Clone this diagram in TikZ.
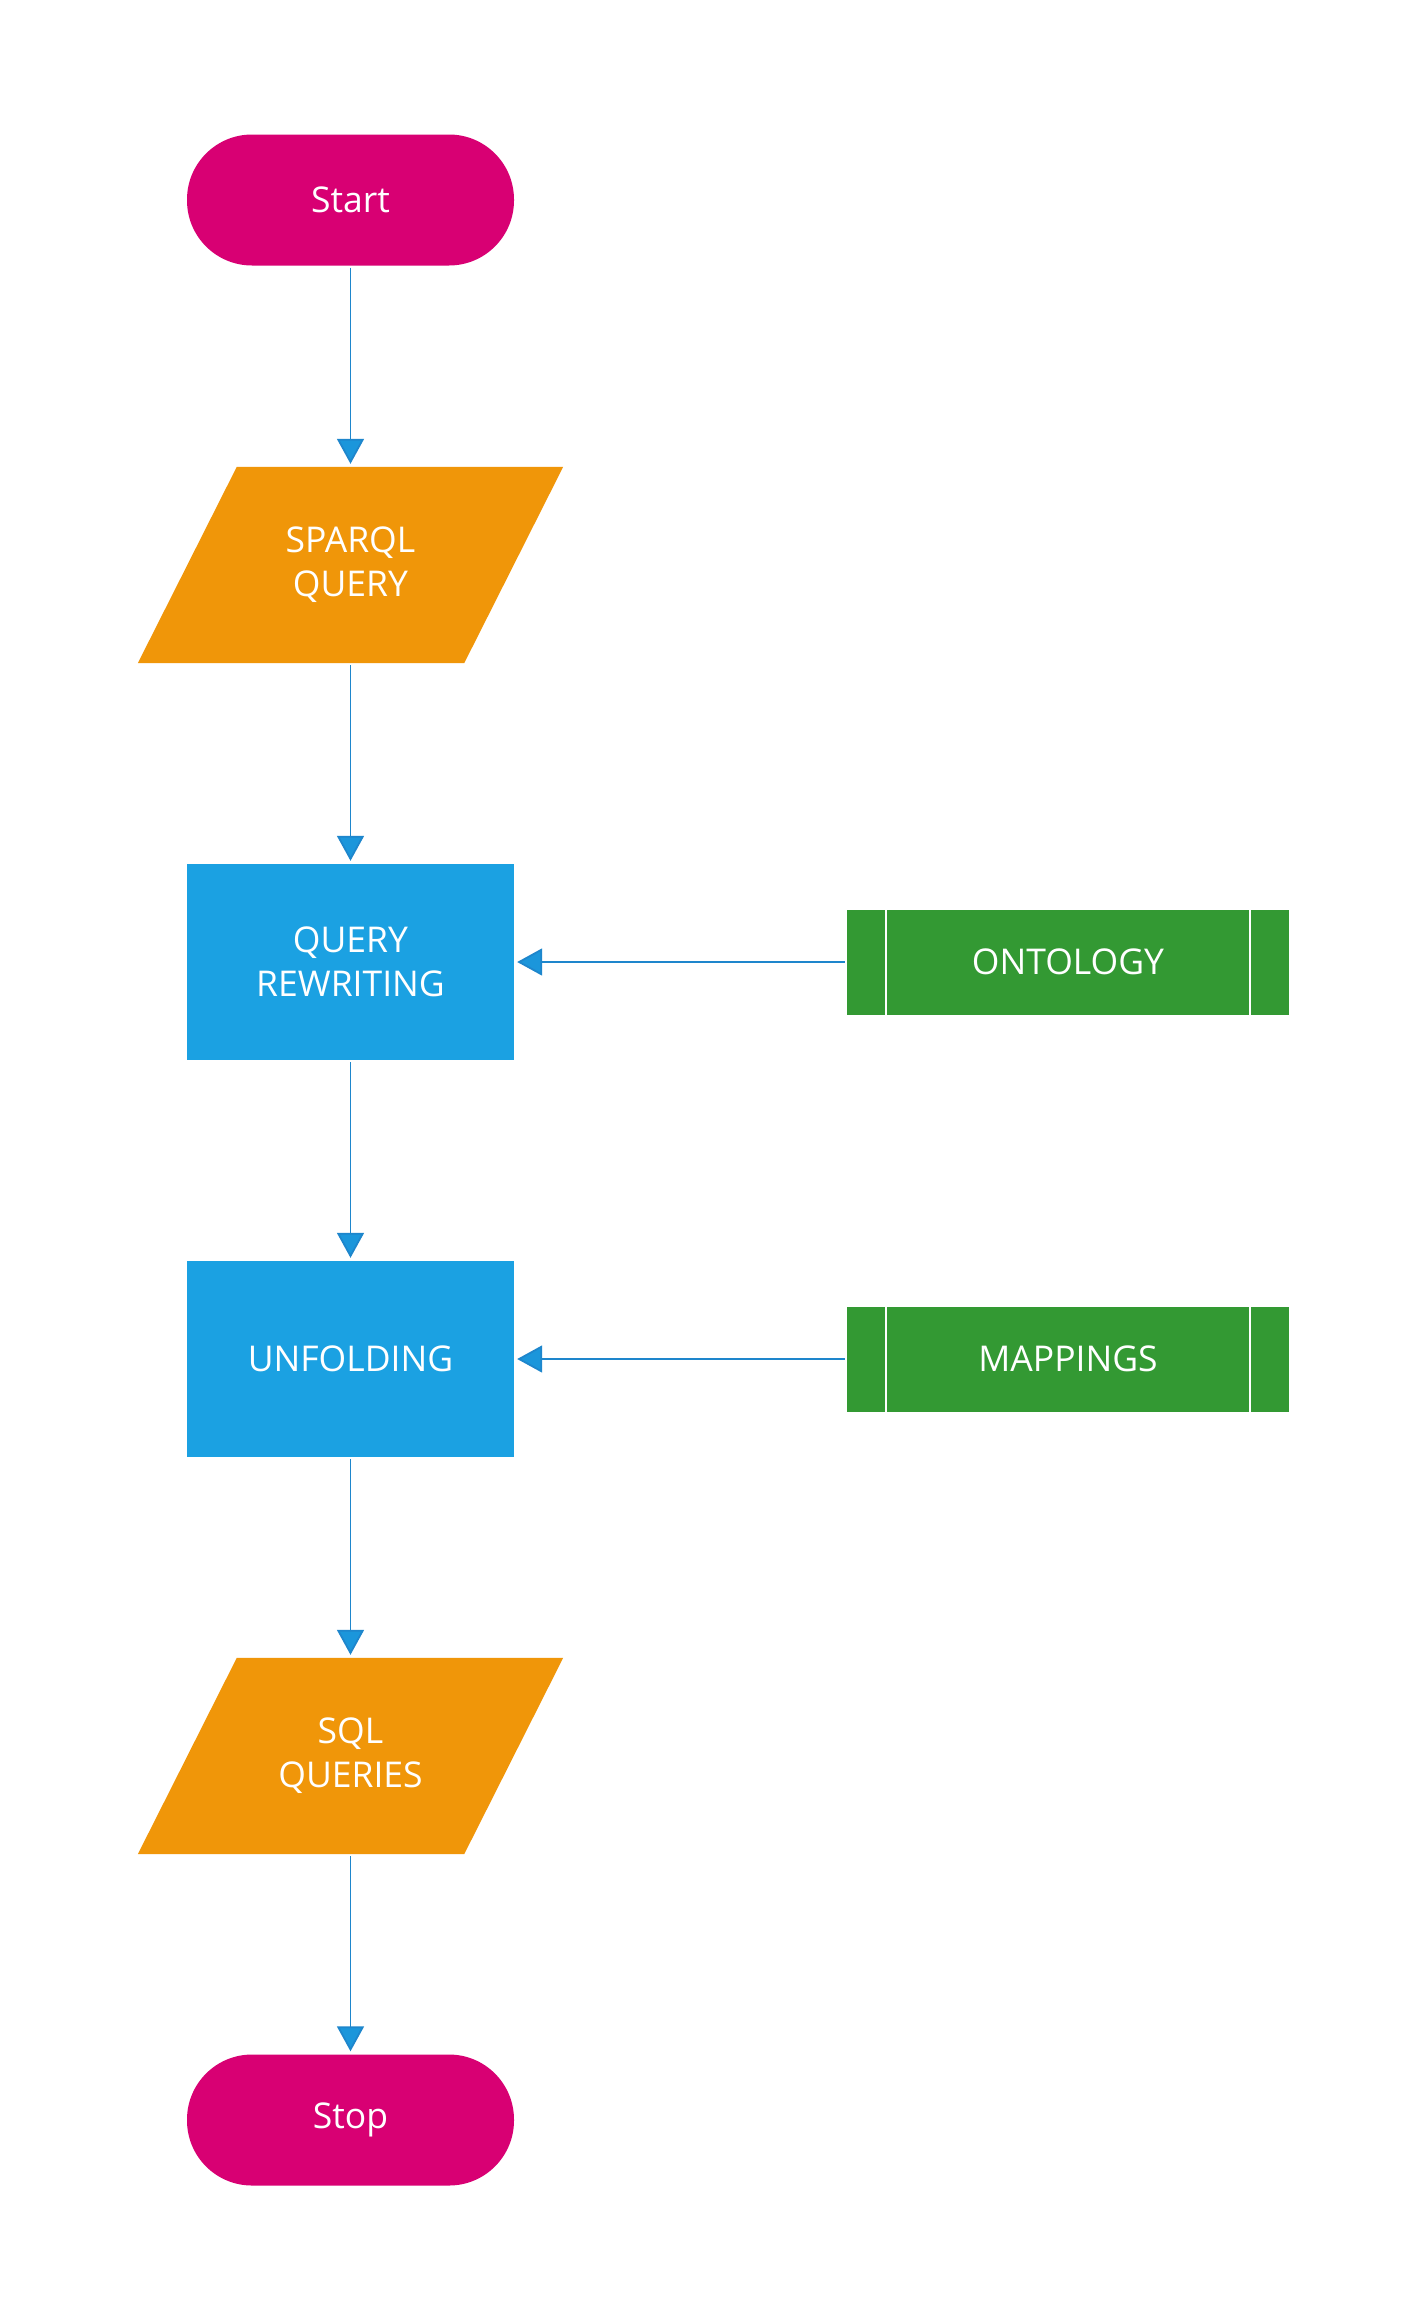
\documentclass[tikz,border=0pt]{standalone}
\usepackage{fontspec}
\setmainfont{Open Sans}
\usetikzlibrary{arrows.meta,backgrounds}
\definecolor{pinkc}{HTML}{D80073}
\definecolor{orangec}{HTML}{F09609}
\definecolor{bluec}{HTML}{1BA1E2}
\definecolor{greenc}{HTML}{339933}
\definecolor{linec}{HTML}{1E86CC}
\definecolor{tipc}{HTML}{1B96DB}
\begin{document}
\begin{tikzpicture}[x=1pt,y=-1pt,
  every node/.style={font=\fontsize{35.5}{44}\selectfont, text=white, align=center, inner sep=0pt},
  terminal/.style={fill=pinkc, rounded corners=65pt, minimum width=327pt, minimum height=131pt},
  iobox/.style={minimum width=326pt, minimum height=196pt},
  process/.style={fill=bluec, minimum width=327pt, minimum height=196pt},
  datastore/.style={fill=greenc, minimum width=442pt, minimum height=105pt},
  flow/.style={draw=linec, line width=1.8pt, -{Triangle[width=27pt,length=25pt,fill=tipc]}, shorten >=3pt, shorten <=2pt},
  sep/.style={draw=white, line width=2pt}]
\useasboundingbox (0,0) rectangle (1422,2318);
\node[terminal] (start) at (350.5,200) {Start};
\node[iobox] (sparql) at (350.5,565) {SPARQL\\QUERY};
\node[process] (qr) at (350.5,962) {QUERY\\REWRITING};
\node[process] (unf) at (350.5,1359) {UNFOLDING};
\node[iobox] (sql) at (350.5,1756) {SQL\\QUERIES};
\node[terminal] (stop) at (350.5,2120) {Stop};
\node[datastore] (onto) at (1068,962) {ONTOLOGY};
\node[datastore] (map) at (1068,1359) {MAPPINGS};
\begin{scope}[on background layer]
  \fill[white] (0,0) rectangle (1422,2318);
  \foreach \n in {sparql,sql}{
    \fill[orangec] ([xshift=49.5pt]\n.north west) -- ([xshift=49.5pt]\n.north east)
      -- ([xshift=-49.5pt]\n.south east) -- ([xshift=-49.5pt]\n.south west) -- cycle;
  }
\end{scope}
\foreach \n in {onto,map}{
  \draw[sep] ([xshift=39pt]\n.north west) -- ([xshift=39pt]\n.south west);
  \draw[sep] ([xshift=-39pt]\n.north east) -- ([xshift=-39pt]\n.south east);
}
\draw[flow] (start) -- (sparql);
\draw[flow] (sparql) -- (qr);
\draw[flow] (qr) -- (unf);
\draw[flow] (unf) -- (sql);
\draw[flow] (sql) -- (stop);
\draw[flow] (onto) -- (qr);
\draw[flow] (map) -- (unf);
\end{tikzpicture}
\end{document}
